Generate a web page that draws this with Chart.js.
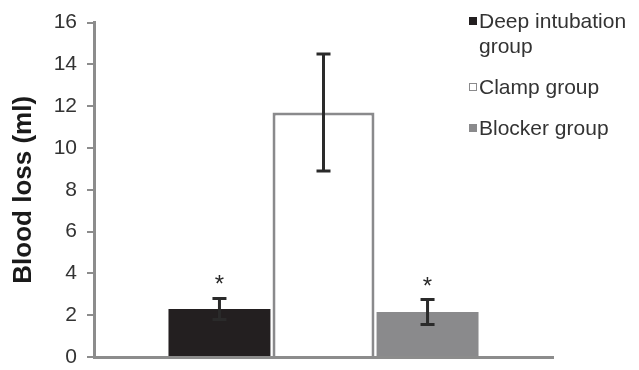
<!DOCTYPE html>
<html>
<head>
<meta charset="utf-8">
<script src="https://cdn.jsdelivr.net/npm/chart.js@4/dist/chart.umd.min.js"></script>
<style>
  html, body { margin: 0; padding: 0; background: #fff; }
  #wrap { position: relative; width: 639px; height: 370px; }
  #legend {
    position: absolute; left: 469px; top: 8px;
    display: flex; flex-direction: column; gap: 16px;
    font-family: "Liberation Sans", Arial, sans-serif; font-size: 21px;
    line-height: 25px; color: #333;
  }
  .item { display: flex; align-items: flex-start; }
  .box { width: 8px; height: 8px; margin-top: 9px; margin-right: 2px; box-sizing: border-box; flex: none; }
  .txt { max-width: 158px; }
</style>
</head>
<body>
<div id="wrap">
  <canvas id="c" width="639" height="370"></canvas>
  <div id="legend"></div>
</div>
<script>
// Blood loss per group: mean and standard deviation (ml)
const groups = ['Deep intubation group', 'Clamp group', 'Blocker group'];
const means = [2.3, 11.7, 2.15];
const sds = [0.5, 2.8, 0.6];
const marks = ['*', '', '*'];
const yTicks = [0, 2, 4, 6, 8, 10, 12, 14, 16];

const fills = ['#231f20', '#ffffff', '#8a8a8c'];
const borders = ['#231f20', '#8a8a8c', '#8a8a8c'];
const axisGray = '#8c8c8c';

const datasets = groups.map((g, i) => ({
  label: g,
  data: [means[i]],
  backgroundColor: fills[i],
  borderColor: borders[i],
  borderWidth: i === 1 ? 3 : 0,
  categoryPercentage: 0.68,
  barPercentage: 0.98
}));

// Error bars and significance marks drawn on top of the bars
const errorBars = {
  id: 'errorBars',
  afterDatasetsDraw(chart) {
    const ctx = chart.ctx;
    const y = chart.scales.y;
    chart.data.datasets.forEach((ds, i) => {
      const bar = chart.getDatasetMeta(i).data[0];
      const x = bar.x;
      const top = y.getPixelForValue(means[i] + sds[i]);
      const bot = y.getPixelForValue(means[i] - sds[i]);
      ctx.save();
      ctx.strokeStyle = '#2a2a2a';
      ctx.lineWidth = 3;
      ctx.beginPath();
      ctx.moveTo(x, top); ctx.lineTo(x, bot);
      ctx.moveTo(x - 7, top); ctx.lineTo(x + 7, top);
      ctx.moveTo(x - 7, bot); ctx.lineTo(x + 7, bot);
      ctx.stroke();
      if (marks[i]) {
        ctx.fillStyle = '#2a2a2a';
        ctx.font = '24px "Liberation Sans", Arial, sans-serif';
        ctx.textAlign = 'center';
        ctx.textBaseline = 'alphabetic';
        ctx.fillText(marks[i], x, top - 6);
      }
      ctx.restore();
    });
  }
};

new Chart(document.getElementById('c'), {
  type: 'bar',
  data: { labels: [''], datasets },
  options: {
    responsive: false,
    animation: false,
    layout: { padding: { top: 21, right: 86, bottom: 13, left: 0 } },
    plugins: { legend: { display: false }, tooltip: { enabled: false } },
    scales: {
      x: {
        afterFit(scale) { scale.height = 0; },
        grid: { display: false },
        ticks: { display: false },
        border: { color: axisGray, width: 3 }
      },
      y: {
        min: 0, max: 16,
        afterBuildTicks(scale) { scale.ticks = yTicks.map(v => ({ value: v })); },
        afterFit(scale) { scale.width = 94; scale.paddingBottom = 0; },
        grid: { drawOnChartArea: false, drawTicks: true, tickLength: 7, color: axisGray, lineWidth: 2 },
        border: { color: axisGray, width: 3 },
        ticks: {
          padding: 10,
          color: '#333',
          font: { family: '"Liberation Sans", Arial, sans-serif', size: 21 }
        },
        title: {
          display: true,
          text: 'Blood loss (ml)',
          color: '#1a1a1a',
          padding: { top: 8, bottom: 0 },
          font: { family: '"Liberation Sans", Arial, sans-serif', size: 26, weight: 'bold' }
        }
      }
    }
  },
  plugins: [errorBars]
});

// Legend built from the same series list
const legend = document.getElementById('legend');
groups.forEach((g, i) => {
  const item = document.createElement('div');
  item.className = 'item';
  const box = document.createElement('span');
  box.className = 'box';
  box.style.background = fills[i];
  box.style.border = '1px solid ' + borders[i];
  const txt = document.createElement('span');
  txt.className = 'txt';
  txt.textContent = g;
  item.appendChild(box);
  item.appendChild(txt);
  legend.appendChild(item);
});
</script>
</body>
</html>
